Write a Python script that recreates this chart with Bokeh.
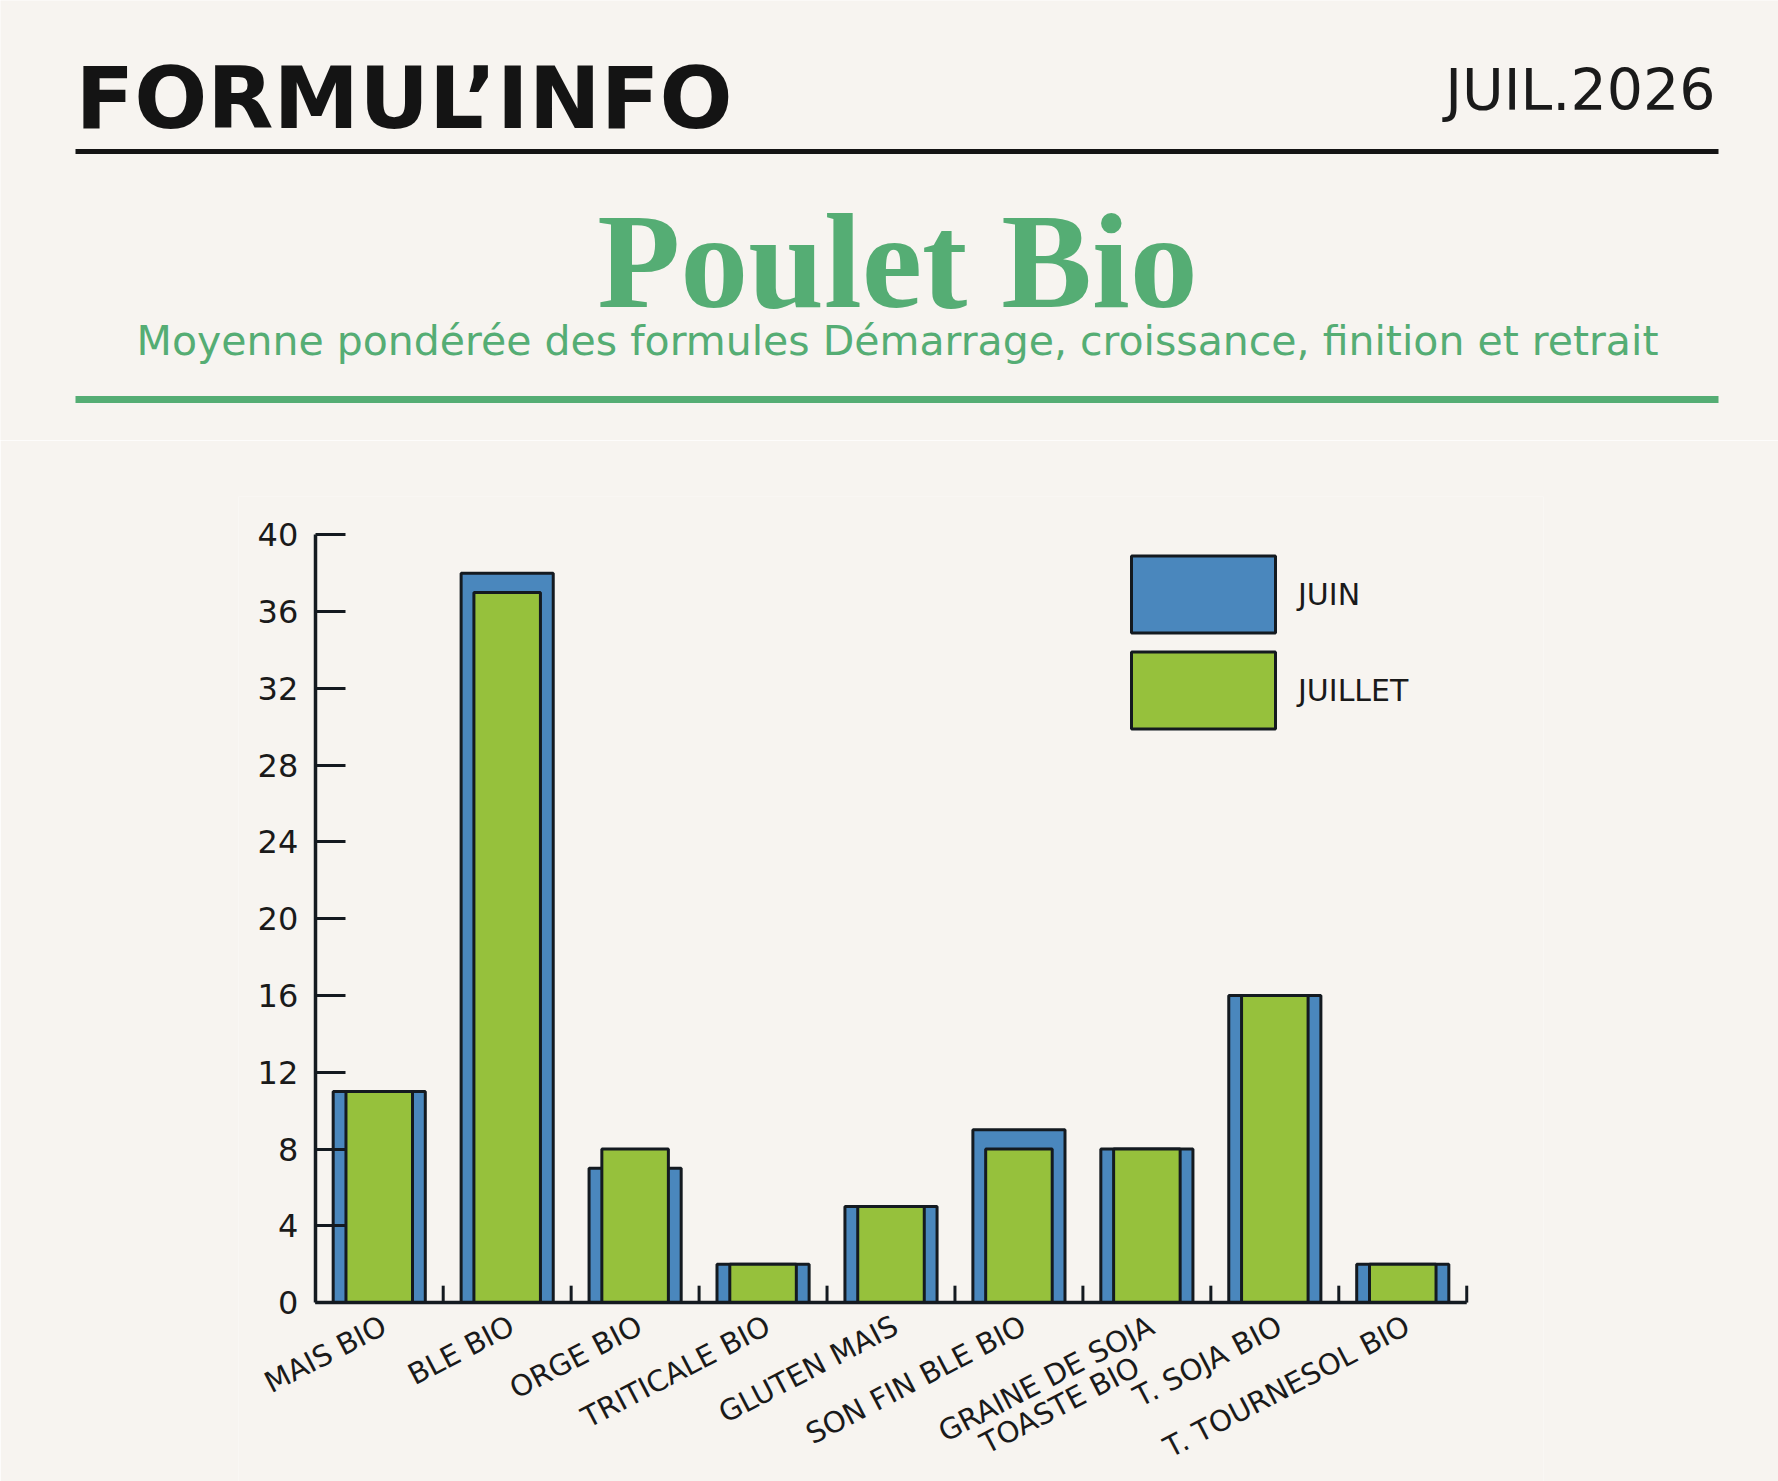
from bokeh.plotting import figure
from bokeh.models import Range1d, FactorRange, FixedTicker, Legend, LegendItem, ColumnDataSource
from bokeh.layouts import column
from bokeh.transform import dodge
from bokeh.core.properties import value
from bokeh.embed import file_html
from bokeh.resources import INLINE

# ---------------- data ----------------
categories = ["MAIS BIO", "BLE BIO", "ORGE BIO", "TRITICALE BIO", "GLUTEN MAIS",
              "SON FIN BLE BIO", "GRAINE DE SOJA\nTOASTE BIO", "T. SOJA BIO", "T. TOURNESOL BIO"]
juin = [11, 38, 7, 2, 5, 9, 8, 16, 2]
juillet = [11, 37, 8, 2, 5, 8, 8, 16, 2]
series_names = ["JUIN", "JUILLET"]
y_ticks = [0, 4, 8, 12, 16, 20, 24, 28, 32, 36, 40]
y_max = 40

header_title = "FORMUL\u2019INFO"
header_date = "JUIL.2026"
chart_title = "Poulet Bio"
chart_subtitle = "Moyenne pondérée des formules Démarrage, croissance, finition et retrait"

# ---------------- style / layout ----------------
BG = "#f7f4f0"
DARK = "#141a20"
BLUE = "#4a87bd"
LGREEN = "#96c13c"
TGREEN = "#55ad74"
W, H, HEAD = 1778, 1481, 440
AXIS_TOP = 94          # page offset (below the header) of the value 40
AXIS_PX = 768          # pixel height of the 0..40 value span
PX_UNIT = AXIS_PX / y_max
TOP_PAD = 2            # value units of room above 40 (for the top tick label)
PLOT_TOP = AXIS_TOP - TOP_PAD * PX_UNIT
FRAME_H = H - HEAD - PLOT_TOP
y_min = -(FRAME_H - AXIS_PX - TOP_PAD * PX_UNIT) / PX_UNIT   # frame extends below 0 to host labels
CAT_PX = 127.9         # pixel width of one category
PAD = 0.6              # extra categories of room on each side (for the rotated labels)
AXIS_LEFT = 315        # page x of the value axis
FRAME_LEFT = round(AXIS_LEFT - PAD * CAT_PX)
FRAME_W = round((len(categories) + 2 * PAD) * CAT_PX)


def Y(v):
    return HEAD - v


# ---------------- header ----------------
head = figure(width=W, height=HEAD, x_range=Range1d(0, W), y_range=Range1d(0, HEAD),
              output_backend="svg", toolbar_location=None, x_axis_type=None, y_axis_type=None,
              min_border=0, background_fill_color=BG, border_fill_color=BG, outline_line_color=None)

head.text(x=[75], y=[Y(97)], text=[header_title], text_font=value("DejaVu Sans"), text_font_style="bold",
          text_font_size="86px", text_color="#141414", text_align="left", text_baseline="middle")
head.text(x=[1715], y=[Y(89)], text=[header_date], text_font=value("DejaVu Sans"),
          text_font_size="57px", text_color="#1a1a1a", text_align="right", text_baseline="middle")
head.segment(x0=[75], x1=[1718], y0=[Y(151)], y1=[Y(151)], line_width=5, line_color="#141414")
head.text(x=[897], y=[Y(260)], text=[chart_title], text_font=value("Liberation Serif"), text_font_style="bold",
          text_font_size="136px", text_color=TGREEN, text_align="center", text_baseline="middle")
head.text(x=[897], y=[Y(340)], text=[chart_subtitle], text_font=value("DejaVu Sans"),
          text_font_size="41px", text_color=TGREEN, text_align="center", text_baseline="middle")
head.segment(x0=[75], x1=[1718], y0=[Y(399)], y1=[Y(399)], line_width=7, line_color=TGREEN)

# ---------------- chart ----------------
src = ColumnDataSource(dict(cat=categories, juin=juin, juillet=juillet))

p = figure(width=W, height=H - HEAD,
           x_range=FactorRange(factors=categories, range_padding=PAD, range_padding_units="absolute"),
           y_range=Range1d(y_min, y_max + TOP_PAD), output_backend="svg", toolbar_location=None,
           x_axis_location=None,
           min_border_left=FRAME_LEFT, min_border_right=W - FRAME_LEFT - FRAME_W,
           min_border_top=round(PLOT_TOP), min_border_bottom=0,
           background_fill_color=BG, border_fill_color=BG, outline_line_color=None)

for fig in (head, p):
    if "frame_align" in fig.properties():
        fig.frame_align = False

r1 = p.vbar(x="cat", top="juin", width=0.72, source=src, fill_color=BLUE,
            line_color=DARK, line_width=3)
r2 = p.vbar(x="cat", top="juillet", width=0.52, source=src, fill_color=LGREEN,
            line_color=DARK, line_width=3)

# category axis line (from first to last category boundary), boundary ticks and labels
p.segment(x0=[0], x1=[len(categories)], y0=[0], y1=[0], line_width=3.5, line_color=DARK)
p.segment(x0=dodge("cat", 0.5, range=p.x_range), x1=dodge("cat", 0.5, range=p.x_range),
          y0=0, y1=0.88, source=src, line_width=3, line_color=DARK)
lbl = p.text(x="cat", y=0, text="cat", source=src, angle=0.48, text_align="right", text_baseline="top",
             x_offset=-3, y_offset=6, text_font=value("DejaVu Sans"), text_font_size="29px",
             text_color="#1a1a1a", text_line_height=0.88)
if "anchor" in lbl.glyph.properties():
    lbl.glyph.anchor = "top_right"
    lbl.glyph.text_align = "center"

p.xgrid.visible = False
p.ygrid.visible = False

p.yaxis.fixed_location = 0          # left boundary of the first category
p.yaxis.bounds = (0, y_max)
p.yaxis.ticker = FixedTicker(ticks=y_ticks)
p.yaxis.major_tick_in = 30
p.yaxis.major_tick_out = 0
p.yaxis.minor_tick_line_color = None
p.yaxis.axis_line_width = 3.5
p.yaxis.axis_line_color = DARK
p.yaxis.major_tick_line_width = 3
p.yaxis.major_tick_line_color = DARK
p.yaxis.major_label_text_font = "DejaVu Sans"
p.yaxis.major_label_text_font_size = "32px"
p.yaxis.major_label_text_color = "#1a1a1a"
p.yaxis.major_label_standoff = 17

legend = Legend(items=[LegendItem(label=series_names[0], renderers=[r1]),
                       LegendItem(label=series_names[1], renderers=[r2])],
                location=(1113 - FRAME_LEFT, 743), glyph_width=180, glyph_height=96, spacing=0,
                padding=0, margin=0, label_standoff=5,
                label_text_font="DejaVu Sans", label_text_font_size="30px",
                label_text_color="#1a1a1a", border_line_color=None, background_fill_alpha=0)
p.add_layout(legend)

layout = column(head, p, spacing=0)
open("out.html", "w").write(file_html(layout, INLINE))
